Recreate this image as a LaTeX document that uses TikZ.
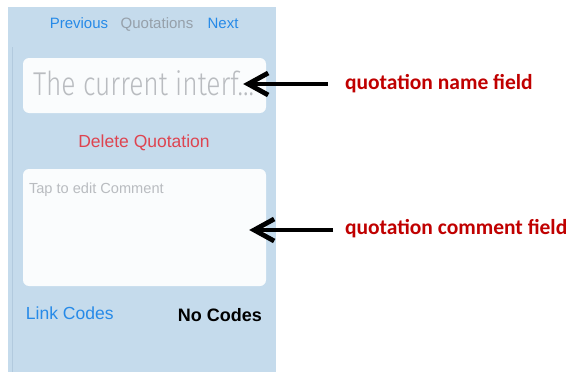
\documentclass[tikz,border=0pt]{standalone}
\usepackage{fontspec}
\setmainfont{Liberation Sans}
\newfontfamily\labelfont{Carlito}
\newfontfamily\thinfont{Fira Sans Light}
\usetikzlibrary{arrows.meta}
\definecolor{panel}{RGB}{197,219,236}
\definecolor{panelline}{RGB}{178,202,222}
\definecolor{field}{RGB}{250,252,253}
\definecolor{iosblue}{RGB}{38,138,232}
\definecolor{iosred}{RGB}{222,68,80}
\definecolor{titlegray}{RGB}{150,160,170}
\definecolor{hintgray}{RGB}{185,188,192}
\definecolor{notered}{RGB}{192,0,0}
\tikzset{
  ui/.style={inner sep=0pt, outer sep=0pt},
  fieldbox/.style={fill=field, rounded corners=6pt, inner sep=0pt},
  callout/.style={ui, font=\labelfont\bfseries\fontsize{21.5}{24}\selectfont, text=notered, anchor=base west},
  pointer/.style={line width=4.8pt, -{Straight Barb[length=20pt,width=22pt,line width=4.8pt]}},
}
\begin{document}
\begin{tikzpicture}[x=1pt,y=-1pt]
\useasboundingbox[fill=white] (0,0) rectangle (571,372);
% phone screen background
\fill[panel] (8,7) rectangle (276,372);
\draw[panelline, line width=0.8pt] (12.5,47) -- (12.5,372);

% navigation bar
\node[ui, anchor=base, text=iosblue, font=\fontsize{15}{18}\selectfont] (prev) at (79,28) {Previous};
\node[ui, anchor=base, text=titlegray, font=\fontsize{15}{18}\selectfont] (title) at (157,28) {Quotations};
\node[ui, anchor=base, text=iosblue, font=\fontsize{15}{18}\selectfont] (next) at (223,28) {Next};

% quotation name field
\node[fieldbox, minimum width=243pt, minimum height=55pt] (namefield) at (144.5,85.5) {};
\node[ui, anchor=base west, text=hintgray, font=\thinfont\fontsize{33}{36}\selectfont] (nametext) at (33,95) {\scalebox{0.8}[1]{The current interf...}};

% delete button
\node[ui, anchor=base, text=iosred, font=\fontsize{17.5}{20}\selectfont] (delete) at (144,147) {Delete Quotation};

% comment field
\node[fieldbox, minimum width=243pt, minimum height=117pt] (commentfield) at (144.5,227.5) {};
\node[ui, anchor=base west, text=hintgray, font=\fontsize{14.6}{17}\selectfont] (hint) at (29,193) {Tap to edit Comment};

% bottom row
\node[ui, anchor=base west, text=iosblue, font=\fontsize{17.5}{20}\selectfont] (link) at (26,319) {Link Codes};
\node[ui, anchor=base east, text=black, font=\bfseries\fontsize{18}{21}\selectfont] (codes) at (262,321) {No Codes};

% callouts
\node[callout] (namelabel) at (345,89) {quotation name field};
\node[callout] (commentlabel) at (345,234) {quotation comment field};
\coordinate (nametail) at (328,84);
\coordinate (commenttail) at (333,230);
\draw[pointer] (nametail) -- (namefield.east |- nametail) -- ++(-23,0);
\draw[pointer] (commenttail) -- (commentfield.east |- commenttail) -- ++(-17,0);
\end{tikzpicture}
\end{document}
